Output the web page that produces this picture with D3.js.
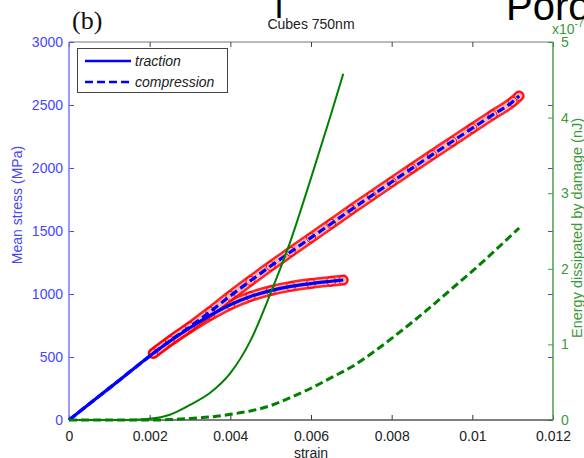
<!DOCTYPE html>
<html>
<head>
<meta charset="utf-8">
<script src="https://d3js.org/d3.v7.min.js"></script>
<style>
  body { margin: 0; background: #fff; }
  svg { display: block; font-family: "Liberation Sans", Arial, Helvetica, sans-serif; }
</style>
</head>
<body>
<svg id="chart" width="584" height="458"></svg>
<script>
// Tick values and labels
const strainTicks = [0, 0.002, 0.004, 0.006, 0.008, 0.01, 0.012];
const strainTickLabels = ["0", "0.002", "0.004", "0.006", "0.008", "0.01", "0.012"];
const stressTicks = [0, 500, 1000, 1500, 2000, 2500, 3000];
const energyTicks = [0, 1, 2, 3, 4, 5];

// Traction: mean stress (MPa) vs strain
const tractionStrain = [0, 0.0005, 0.001, 0.0015, 0.00209, 0.0025, 0.003, 0.0035, 0.004, 0.0045, 0.005, 0.0055, 0.006, 0.0065, 0.0068];
const tractionStress = [0, 127, 253, 380, 529, 625, 732, 830, 915, 980, 1027, 1060, 1083, 1101, 1111];

// Compression: mean stress (MPa) vs strain
const compressionStrain = [0, 0.0005, 0.001, 0.0015, 0.00209, 0.0025, 0.003, 0.0035, 0.004, 0.0045, 0.005, 0.0055, 0.006, 0.0065, 0.007, 0.0075, 0.008, 0.0085, 0.009, 0.0095, 0.01, 0.0105, 0.011, 0.01116];
const compressionStress = [0, 127, 253, 380, 529, 628, 740, 860, 985, 1105, 1222, 1335, 1447, 1558, 1670, 1780, 1889, 1997, 2104, 2210, 2316, 2421, 2526, 2572];

// Energy dissipated by damage (x1e-7 nJ), traction
const energyTractionStrain = [0, 0.001, 0.0015, 0.002, 0.0025, 0.003, 0.0035, 0.004, 0.0045, 0.005, 0.0055, 0.006, 0.0065, 0.0068];
const energyTraction = [0, 0, 0, 0.015, 0.07, 0.2, 0.36, 0.62, 1.05, 1.68, 2.38, 3.2, 4.05, 4.58];

// Energy dissipated by damage (x1e-7 nJ), compression
const energyCompressionStrain = [0, 0.001, 0.002, 0.0025, 0.003, 0.0035, 0.004, 0.0045, 0.005, 0.0055, 0.006, 0.0065, 0.007, 0.0075, 0.008, 0.0085, 0.009, 0.0095, 0.01, 0.0105, 0.011, 0.01116];
const energyCompression = [0, 0, 0, 0.005, 0.02, 0.04, 0.075, 0.12, 0.19, 0.30, 0.42, 0.56, 0.70, 0.88, 1.08, 1.29, 1.51, 1.74, 1.97, 2.21, 2.46, 2.54];

// Strain at which the red markers begin
const markerStart = 0.002;

const svg = d3.select("#chart");
const plot = { left: 69, right: 553, top: 42, bottom: 420 };

const blue = "#0000ff", green = "#008000", red = "#ff0000";
const leftAxisColor = "#4646ff", rightAxisColor = "#3a9a3a";
const sans = "'Liberation Sans', Arial, Helvetica, sans-serif";
const serif = "'Liberation Serif', 'Times New Roman', serif";

const x = d3.scaleLinear().domain([0, 0.012]).range([plot.left, plot.right]);
const yL = d3.scaleLinear().domain([0, 3000]).range([plot.bottom, plot.top]);
const yR = d3.scaleLinear().domain([0, 5]).range([plot.bottom, plot.top]);

const zip = (a, b) => a.map((v, i) => [v, b[i]]);
const traction = zip(tractionStrain, tractionStress);
const compression = zip(compressionStrain, compressionStress);
const eTraction = zip(energyTractionStrain, energyTraction);
const eCompression = zip(energyCompressionStrain, energyCompression);

const lineL = d3.line().x(d => x(d[0])).y(d => yL(d[1])).curve(d3.curveMonotoneX);
const lineR = d3.line().x(d => x(d[0])).y(d => yR(d[1])).curve(d3.curveMonotoneX);

// Box top edge in gray
svg.append("line").attr("x1", plot.left).attr("x2", plot.right).attr("y1", plot.top).attr("y2", plot.top)
  .attr("stroke", "#777").attr("stroke-width", 1);

// Top ticks (pointing down)
svg.append("g").attr("transform", `translate(0,${plot.top})`)
  .call(d3.axisTop(x).tickValues(strainTicks).tickSize(-5).tickFormat(""))
  .call(g => g.select(".domain").remove())
  .call(g => g.selectAll(".tick line").attr("stroke", "#444"));

// Bottom axis
const xAxis = svg.append("g").attr("transform", `translate(0,${plot.bottom})`)
  .call(d3.axisBottom(x).tickValues(strainTicks).tickSize(-5).tickPadding(11)
    .tickFormat((d, i) => strainTickLabels[i]));
xAxis.select(".domain").remove();
xAxis.selectAll(".tick line").attr("stroke", "#333");
xAxis.selectAll(".tick text").attr("font-size", 14).attr("fill", "#222").style("font-family", sans);

// Left axis
const yAxisL = svg.append("g").attr("transform", `translate(${plot.left},0)`)
  .call(d3.axisLeft(yL).tickValues(stressTicks).tickSize(-5).tickPadding(6).tickFormat(d3.format("d")));
yAxisL.select(".domain").remove();
yAxisL.selectAll(".tick line").attr("stroke", leftAxisColor);
yAxisL.selectAll(".tick text").attr("font-size", 14).attr("fill", leftAxisColor).style("font-family", sans);

// Mirrored left-axis ticks on the right edge
svg.append("g").attr("transform", `translate(${plot.right},0)`)
  .call(d3.axisRight(yL).tickValues(stressTicks.slice(1, -1)).tickSize(-5).tickFormat(""))
  .call(g => g.select(".domain").remove())
  .call(g => g.selectAll(".tick line").attr("stroke", leftAxisColor));

// Right axis
const yAxisR = svg.append("g").attr("transform", `translate(${plot.right},0)`)
  .call(d3.axisRight(yR).tickValues(energyTicks).tickSize(-5).tickPadding(8).tickFormat(d3.format("d")));
yAxisR.select(".domain").remove();
yAxisR.selectAll(".tick line").attr("stroke", rightAxisColor);
yAxisR.selectAll(".tick text").attr("font-size", 14).attr("fill", rightAxisColor).style("font-family", sans);

// Axis lines
svg.append("line").attr("x1", plot.left).attr("x2", plot.right).attr("y1", plot.bottom).attr("y2", plot.bottom)
  .attr("stroke", "#555").attr("stroke-width", 1.5);
svg.append("line").attr("x1", plot.left).attr("x2", plot.left).attr("y1", plot.top).attr("y2", plot.bottom)
  .attr("stroke", "#7a7aff").attr("stroke-width", 1.5);
svg.append("line").attr("x1", plot.right).attr("x2", plot.right).attr("y1", plot.top).attr("y2", plot.bottom)
  .attr("stroke", "#4c9c4c").attr("stroke-width", 1.5);

// Stress curves: red marker bands from markerStart, blue lines on top
const marked = [traction, compression].map(s => s.filter(d => d[0] >= markerStart));
const curves = svg.append("g");
marked.forEach(s => {
  curves.append("path").attr("d", lineL(s)).attr("fill", "none")
    .attr("stroke", red).attr("stroke-opacity", 0.85).attr("stroke-width", 11).attr("stroke-linecap", "round");
  curves.append("path").attr("d", lineL(s)).attr("fill", "none")
    .attr("stroke", "#ffb4b4").attr("stroke-width", 6).attr("stroke-linecap", "round");
  curves.selectAll(null).data(s).join("circle")
    .attr("cx", d => x(d[0])).attr("cy", d => yL(d[1])).attr("r", 4.5)
    .attr("fill", "none").attr("stroke", red).attr("stroke-width", 1);
});
curves.append("path").attr("d", lineL(traction)).attr("fill", "none")
  .attr("stroke", blue).attr("stroke-width", 3.2);
curves.append("path").attr("d", lineL(compression)).attr("fill", "none")
  .attr("stroke", blue).attr("stroke-width", 3.2).attr("stroke-dasharray", "8,4");

// Energy curves
svg.append("path").attr("d", lineR(eTraction)).attr("fill", "none")
  .attr("stroke", green).attr("stroke-width", 2);
svg.append("path").attr("d", lineR(eCompression)).attr("fill", "none")
  .attr("stroke", green).attr("stroke-width", 3).attr("stroke-dasharray", "8,4");

// Legend
const legend = svg.append("g");
legend.append("rect").attr("x", 77.5).attr("y", 48.5).attr("width", 150).attr("height", 44)
  .attr("fill", "#fff").attr("stroke", "#444").attr("stroke-width", 1);
const legendItems = [
  { label: "traction", dash: null, y: 61 },
  { label: "compression", dash: "8,4", y: 82 }
];
legendItems.forEach(it => {
  legend.append("line").attr("x1", 85).attr("x2", 131).attr("y1", it.y).attr("y2", it.y)
    .attr("stroke", blue).attr("stroke-width", 2.5).attr("stroke-dasharray", it.dash);
  legend.append("text").attr("x", 135).attr("y", it.y + 5).attr("font-size", 14)
    .attr("font-style", "italic").attr("fill", "#222").text(it.label);
});

// Titles and labels
svg.append("text").attr("x", 311).attr("y", 29).attr("text-anchor", "middle")
  .attr("font-size", 14).attr("fill", "#222").text("Cubes 750nm");
svg.append("text").attr("x", 72).attr("y", 29).attr("font-size", 26)
  .style("font-family", serif).attr("fill", "#111").text("(b)");
svg.append("text").attr("x", 506).attr("y", 20).attr("font-size", 40).attr("fill", "#000").text("Poro");
svg.append("text").attr("x", 275).attr("y", 18).attr("font-size", 36).attr("fill", "#000").text("l");

svg.append("text").attr("x", 311).attr("y", 458).attr("text-anchor", "middle")
  .attr("font-size", 14).attr("fill", "#222").text("strain");
svg.append("text").attr("transform", "translate(22,205) rotate(-90)").attr("text-anchor", "middle")
  .attr("font-size", 14).attr("fill", leftAxisColor).text("Mean stress (MPa)");
svg.append("text").attr("transform", "translate(582,228) rotate(-90)").attr("text-anchor", "middle")
  .attr("font-size", 14.5).attr("fill", rightAxisColor).text("Energy dissipated by damage (nJ)");

// Exponent marker for the right axis
const expo = svg.append("text").attr("x", 552).attr("y", 34).attr("font-size", 14).attr("fill", rightAxisColor);
expo.append("tspan").text("x10");
expo.append("tspan").attr("dy", -7).attr("font-size", 10).text("-7");
</script>
</body>
</html>
